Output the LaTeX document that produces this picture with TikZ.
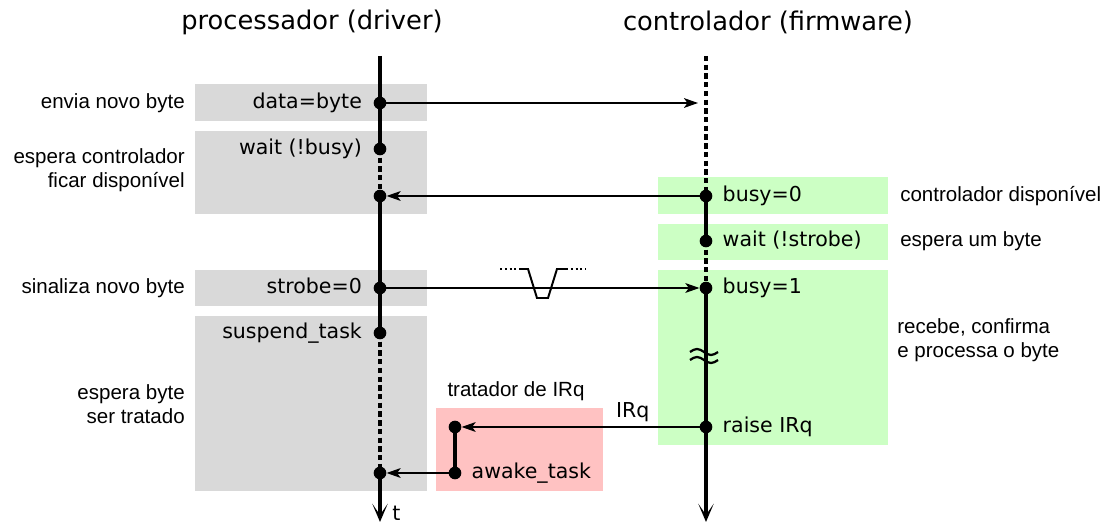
\documentclass[tikz,border=0pt]{standalone}
\usepackage{fontspec}
\setmainfont{DejaVu Sans}
\newfontfamily\arialfont{Liberation Sans}
\usetikzlibrary{arrows.meta,positioning}
\definecolor{cinza}{RGB}{217,217,217}
\definecolor{verde}{RGB}{204,255,196}
\definecolor{rosa}{RGB}{255,194,194}
\tikzset{
  evento/.style={circle,fill=black,inner sep=0pt,minimum size=9pt},
  linha/.style={line width=2.5pt},
  pontilhado/.style={line width=2.5pt,dash pattern=on 3.8pt off 2.4pt},
  fim/.style={-{Stealth[length=13pt,width=11pt,inset=8pt]}},
  msg/.style={line width=0.8pt,-{Stealth[length=10pt,width=7pt,inset=2.5pt]}},
  texto/.style={inner sep=0pt,font=\fontsize{14.6}{17}\selectfont,text height=11pt,text depth=3pt},
  lateral/.style={inner sep=0pt,font=\arialfont\fontsize{14.6}{17.5}\selectfont},
  titulo/.style={inner sep=0pt,font=\fontsize{18.3}{22}\selectfont},
}
\begin{document}
\begin{tikzpicture}[x=0.025cm,y=-0.025cm]
\useasboundingbox (0,0) rectangle (1107,524);

% caixas de fundo
\fill[cinza] (195,84) rectangle (427,121);
\fill[cinza] (195,131) rectangle (427,214);
\fill[cinza] (195,270) rectangle (427,306);
\fill[cinza] (195,316) rectangle (427,491);
\fill[verde] (658,177) rectangle (888,214);
\fill[verde] (658,224) rectangle (888,260);
\fill[verde] (658,270) rectangle (888,445);
\fill[rosa] (436,408) rectangle (603,491);

\node[titulo] (tp) at (312,22) {processador (driver)};
\node[titulo] (tc) at (768,22) {controlador (firmware)};

% eventos do processador
\coordinate (p0) at (380,56);
\node[evento] (d1) at (380,103) {};
\node[evento] (d2) at (380,149) {};
\node[evento] (d3) at (380,196) {};
\node[evento] (d4) at (380,288) {};
\node[evento] (d5) at (380,333) {};
\node[evento] (d6) at (380,473) {};
\coordinate (pf) at (380,522);

% eventos do controlador
\coordinate (c0) at (706,56);
\coordinate (cd) at (698,103);
\node[evento] (c1) at (706,196) {};
\node[evento] (c2) at (706,241) {};
\node[evento] (c3) at (706,288) {};
\node[evento] (c4) at (706,427) {};
\coordinate (cf) at (706,522);

% tratador
\node[evento] (h1) at (455,427) {};
\node[evento] (h2) at (455,473) {};

% linhas de tempo
\draw[linha] (p0) -- (d2.center);
\draw[pontilhado] (d2.center) -- (d3.center);
\draw[linha] (d3.center) -- (d5.center);
\draw[pontilhado] (d5.center) -- (d6.center);
\draw[linha,fim] (d6.center) -- (pf);
\draw[pontilhado] (c0) -- (c1.center);
\draw[linha] (c1.center) -- (c2.center);
\draw[pontilhado] (c2.center) -- (c3.center);
\draw[linha,fim] (c3.center) -- (cf);
\draw[linha] (h1.center) -- (h2.center);
\node[texto,anchor=base west,text height=,text depth=] (t) at (392,521) {t};

% quebra
\draw[line width=1.6pt] (690,352) sin (697,349) cos (704,352) sin (711,355) cos (718,352);
\draw[line width=1.6pt] (690,360) sin (697,357) cos (704,360) sin (711,363) cos (718,360);

% sinal strobe
\draw[line width=1.4pt] (520,269) -- (528,269) -- (537,298) -- (548,298) -- (557,269) -- (566,269);
\draw[line width=1.4pt,dotted] (500,269) -- (520,269);
\draw[line width=1.4pt,dotted] (566,269) -- (586,269);

% mensagens
\draw[msg] (d1.center) -- (cd);
\draw[msg] (c1.center) -- (d3);
\draw[msg] (d4.center) -- (c3);
\draw[msg] (c4.center) -- node[texto,pos=0.3,above=3pt] (irq) {IRq} (h1);
\draw[msg] (h2.center) -- (d6);

% textos dos eventos
\node[texto,left=8pt of d1] (td1) {data=byte};
\node[texto,left=8pt of d2] (td2) {wait (!busy)};
\node[texto,left=8pt of d4] (td4) {strobe=0};
\node[texto,left=8pt of d5] (td5) {suspend\_task};
\node[texto,right=7pt of c1] (tc1) {busy=0};
\node[texto,right=7pt of c2] (tc2) {wait (!strobe)};
\node[texto,right=7pt of c3] (tc3) {busy=1};
\node[texto,right=7pt of c4] (tc4) {raise IRq};
\node[texto,right=7pt of h2] (th2) {awake\_task};
\node[lateral] (th) at (516,391) {tratador de IRq};

% descricoes
\node[lateral,anchor=east] (l1) at (185,103) {envia novo byte};
\node[lateral,anchor=east,align=right] (l2) at (185,170) {espera controlador\\ficar disponível};
\node[lateral,anchor=east] (l3) at (185,288) {sinaliza novo byte};
\node[lateral,anchor=east,align=right] (l4) at (185,404) {espera byte\\ser tratado};
\node[lateral,anchor=west] (r1) at (900,196) {controlador disponível};
\node[lateral,anchor=west] (r2) at (900,241) {espera um byte};
\node[lateral,anchor=west,align=left] (r3) at (897,340) {recebe, confirma\\e processa o byte};
\end{tikzpicture}
\end{document}
